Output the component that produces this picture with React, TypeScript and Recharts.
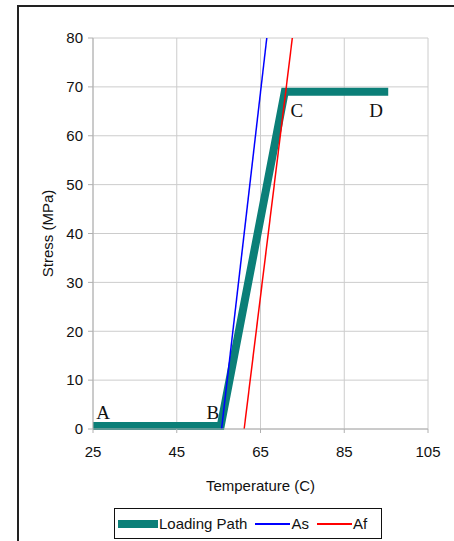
import React from "react";
import { LineChart, Line, XAxis, YAxis, CartesianGrid } from "recharts";

const pathTemp = [25, 55.5, 70.8, 95.5];
const pathStress = [0.6, 0.6, 69, 69];
const pathTags = ["A", "B", "C", "D"];

const asTemp = [55.7, 66.5];
const asStress = [0, 80];

const afTemp = [61.1, 72.6];
const afStress = [0, 80];

const tempTicks = [25, 45, 65, 85, 105];
const stressTicks = [0, 10, 20, 30, 40, 50, 60, 70, 80];

const TEAL = "#0b7f78";
const SANS = "Liberation Sans, Arial, sans-serif";
const SERIF = "Liberation Serif, Times New Roman, serif";

const loadingPath = pathTemp.map((t, i) => ({ temp: t, stress: pathStress[i], tag: pathTags[i] }));
const asLine = asTemp.map((t, i) => ({ temp: t, stress: asStress[i] }));
const afLine = afTemp.map((t, i) => ({ temp: t, stress: afStress[i] }));

// label offsets for the A-D letters, relative to each point
const tagOffset: Record<string, [number, number]> = {
  A: [10, -7],
  B: [-8, -7],
  C: [12, 25],
  D: [-12, 25],
};

function PathTag(props: any) {
  const { x, y, index } = props;
  const tag = pathTags[index];
  const [dx, dy] = tagOffset[tag];
  return (
    <text x={x + dx} y={y + dy} textAnchor="middle" fontFamily={SERIF} fontSize={19} fill="#111">
      {tag}
    </text>
  );
}

const legendItems = [
  { name: "Loading Path", color: TEAL, width: 8 },
  { name: "As", color: "#0000ff", width: 2 },
  { name: "Af", color: "#ff0000", width: 2 },
];

export default function App() {
  return (
    <div style={{ position: "absolute", left: 0, top: 0, width: 454, height: 541, overflow: "hidden", background: "#fff" }}>
      <div
        style={{
          position: "absolute",
          left: 17,
          top: 5,
          width: 470,
          height: 580,
          border: "2px solid #222",
          boxSizing: "border-box",
        }}
      />
      <div style={{ position: "absolute", left: 0, top: 0 }}>
        <LineChart width={454} height={541} margin={{ top: 38, right: 26, bottom: 82, left: 48 }}>
          <CartesianGrid stroke="#cccccc" strokeWidth={1} />
          <XAxis
            dataKey="temp"
            type="number"
            domain={[25, 105]}
            ticks={tempTicks}
            allowDuplicatedCategory={false}
            height={30}
            tickSize={4}
            tickMargin={13}
            axisLine={{ stroke: "#b0b0b0" }}
            tickLine={{ stroke: "#b0b0b0" }}
            tick={{ fontSize: 15, fill: "#111", fontFamily: SANS }}
            label={{
              content: (p: any) => (
                <text
                  x={p.viewBox.x + p.viewBox.width / 2}
                  y={p.viewBox.y + 62}
                  textAnchor="middle"
                  fontFamily={SANS}
                  fontSize={15}
                  fill="#111"
                >
                  Temperature (C)
                </text>
              ),
            }}
          />
          <YAxis
            dataKey="stress"
            type="number"
            domain={[0, 80]}
            ticks={stressTicks}
            width={45}
            tickSize={5}
            tickMargin={5}
            axisLine={{ stroke: "#b0b0b0" }}
            tickLine={{ stroke: "#b0b0b0" }}
            tick={{ fontSize: 15, fill: "#111", fontFamily: SANS }}
            label={{
              content: (p: any) => {
                const cx = p.viewBox.x + 5;
                const cy = p.viewBox.y + p.viewBox.height / 2;
                return (
                  <text
                    x={cx}
                    y={cy}
                    transform={`rotate(-90 ${cx} ${cy})`}
                    textAnchor="middle"
                    fontFamily={SANS}
                    fontSize={15}
                    fill="#111"
                  >
                    Stress (MPa)
                  </text>
                );
              },
            }}
          />
          <Line
            data={loadingPath}
            dataKey="stress"
            type="linear"
            stroke={TEAL}
            strokeWidth={8}
            strokeLinecap="butt"
            strokeLinejoin="miter"
            dot={false}
            activeDot={false}
            label={PathTag}
            isAnimationActive={false}
          />
          <Line
            data={asLine}
            dataKey="stress"
            type="linear"
            stroke="#0000ff"
            strokeWidth={1.5}
            dot={false}
            activeDot={false}
            isAnimationActive={false}
          />
          <Line
            data={afLine}
            dataKey="stress"
            type="linear"
            stroke="#ff0000"
            strokeWidth={1.5}
            dot={false}
            activeDot={false}
            isAnimationActive={false}
          />
        </LineChart>
      </div>
      <div
        style={{
          position: "absolute",
          left: 114,
          top: 508,
          width: 268,
          height: 31,
          border: "1.5px solid #111",
          boxSizing: "border-box",
          display: "flex",
          alignItems: "center",
          paddingLeft: 3,
          fontFamily: SANS,
          fontSize: 15,
          color: "#111",
        }}
      >
        {legendItems.map((it) => (
          <span key={it.name} style={{ display: "flex", alignItems: "center", marginRight: 8 }}>
            <span
              style={{
                display: "inline-block",
                width: it.width > 4 ? 40 : 35,
                height: it.width,
                background: it.color,
                marginRight: 1,
              }}
            />
            <span>{it.name}</span>
          </span>
        ))}
      </div>
    </div>
  );
}
